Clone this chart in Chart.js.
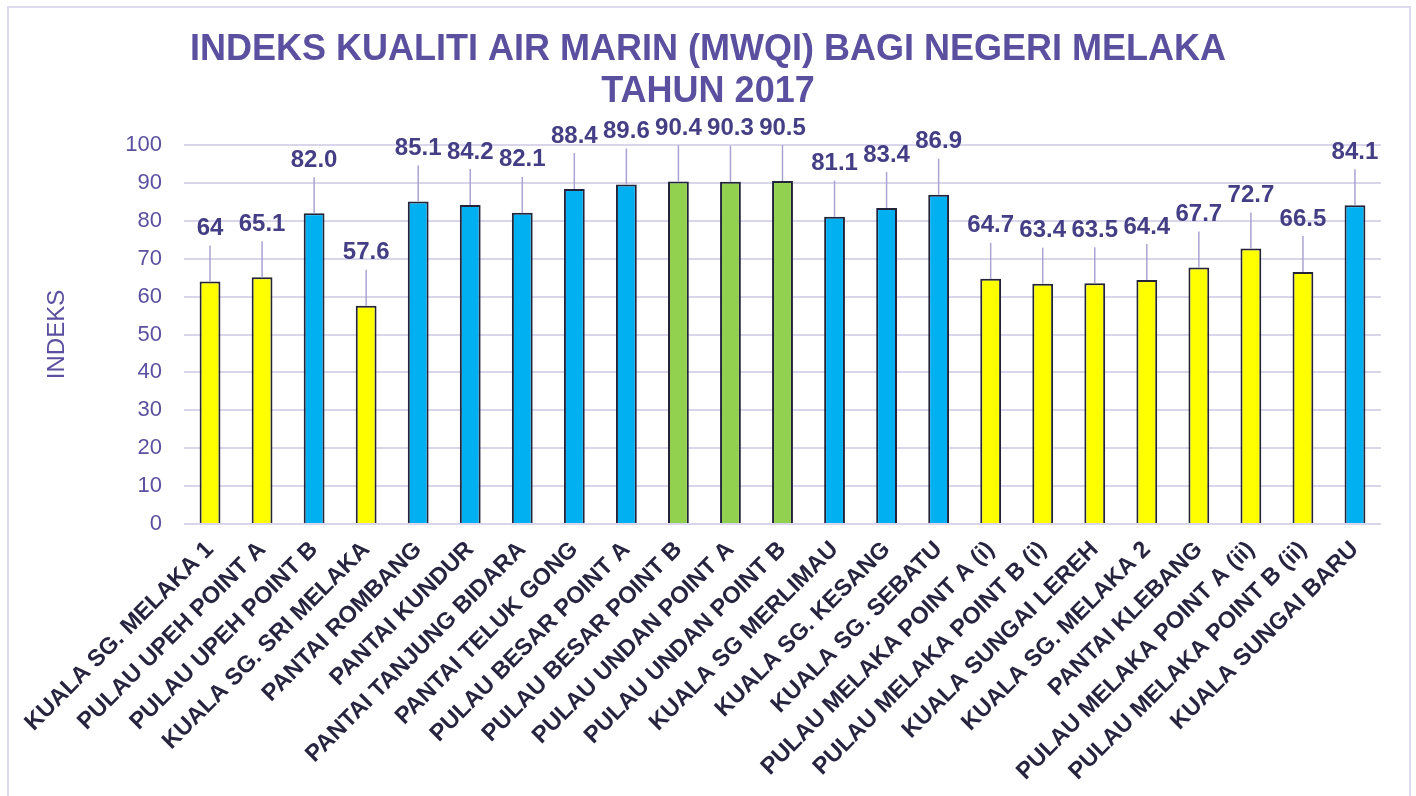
<!DOCTYPE html>
<html><head><meta charset="utf-8">
<script src="https://cdn.jsdelivr.net/npm/chart.js@4/dist/chart.umd.min.js"></script>
<style>
html,body{margin:0;padding:0;background:#fff;overflow:hidden;}
#frame{position:absolute;left:7px;top:6px;width:1400px;height:820px;border:2px solid #DCDAEE;}
#wrap{position:absolute;left:0;top:0;width:1416px;height:796px;}
</style></head><body>
<div id="frame"></div>
<div id="wrap"><canvas id="c" width="1416" height="796"></canvas></div>
<script>
const categories = [
  'KUALA SG. MELAKA 1','PULAU UPEH POINT A','PULAU UPEH POINT B','KUALA SG. SRI MELAKA',
  'PANTAI ROMBANG','PANTAI KUNDUR','PANTAI TANJUNG BIDARA','PANTAI TELUK GONG',
  'PULAU BESAR POINT A','PULAU BESAR POINT B','PULAU UNDAN POINT A','PULAU UNDAN POINT B',
  'KUALA SG MERLIMAU','KUALA SG. KESANG','KUALA SG. SEBATU','PULAU MELAKA POINT A (i)',
  'PULAU MELAKA POINT B (i)','KUALA SUNGAI LEREH','KUALA SG. MELAKA 2','PANTAI KLEBANG',
  'PULAU MELAKA POINT A (ii)','PULAU MELAKA POINT B (ii)','KUALA SUNGAI BARU'
];
const indexValues = [64, 65.1, 82.0, 57.6, 85.1, 84.2, 82.1, 88.4, 89.6, 90.4, 90.3, 90.5,
  81.1, 83.4, 86.9, 64.7, 63.4, 63.5, 64.4, 67.7, 72.7, 66.5, 84.1];
const valueLabels = ['64','65.1','82.0','57.6','85.1','84.2','82.1','88.4','89.6','90.4','90.3','90.5',
  '81.1','83.4','86.9','64.7','63.4','63.5','64.4','67.7','72.7','66.5','84.1'];
const yTicks = [0, 10, 20, 30, 40, 50, 60, 70, 80, 90, 100];
const titleLines = ['INDEKS KUALITI AIR MARIN (MWQI) BAGI NEGERI MELAKA', 'TAHUN 2017'];
const yAxisTitle = 'INDEKS';

const PURPLE = '#5B50A0';
const FONT = '"Liberation Sans", Arial, sans-serif';
function classColor(v) {
  if (v >= 90) return '#92D050';
  if (v >= 80) return '#00B0F0';
  return '#FFFF00';
}

const calloutPlugin = {
  id: 'callouts',
  afterDatasetsDraw(chart) {
    const ctx = chart.ctx;
    const meta = chart.getDatasetMeta(0);
    ctx.save();
    meta.data.forEach((bar, i) => {
      const x = bar.x, top = bar.y;
      const ly = top - 53;
      ctx.strokeStyle = '#A9A4D2';
      ctx.lineWidth = 1.5;
      ctx.beginPath();
      ctx.moveTo(x, ly + 17);
      ctx.lineTo(x, top);
      ctx.stroke();
      ctx.fillStyle = '#443E85';
      ctx.font = 'bold 24px ' + FONT;
      ctx.textAlign = 'center';
      ctx.textBaseline = 'middle';
      ctx.fillText(valueLabels[i], x, ly);
    });
    ctx.restore();
  }
};

new Chart(document.getElementById('c'), {
  type: 'bar',
  data: {
    labels: categories,
    datasets: [{
      data: indexValues,
      backgroundColor: indexValues.map(classColor),
      borderColor: '#23233A',
      borderWidth: 2,
      barPercentage: 0.4,
      categoryPercentage: 1.0
    }]
  },
  options: {
    responsive: false,
    animation: false,
    devicePixelRatio: 1,
    layout: { padding: { left: 35, right: 35, top: 0, bottom: 0 } },
    plugins: {
      legend: { display: false },
      tooltip: { enabled: false },
      title: {
        display: true,
        text: titleLines,
        color: PURPLE,
        font: { family: FONT, size: 36, weight: 'bold', lineHeight: 1.167 },
        padding: { top: 29, bottom: 32 }
      }
    },
    scales: {
      x: {
        grid: { display: false },
        border: { display: false },
        ticks: {
          autoSkip: false,
          maxRotation: 45,
          minRotation: 45,
          padding: 4,
          color: '#26243F',
          font: { family: FONT, size: 23.5, weight: 'bold' }
        },
        afterFit(scale) { scale.height = 272; }
      },
      y: {
        min: 0,
        max: 100,
        afterBuildTicks(scale) { scale.ticks = yTicks.map(v => ({ value: v })); },
        grid: { color: '#D9D6EC', lineWidth: 2, drawTicks: false },
        border: { display: false },
        ticks: {
          padding: 22,
          color: PURPLE,
          font: { family: FONT, size: 22 }
        },
        title: {
          display: true,
          text: yAxisTitle,
          color: PURPLE,
          font: { family: FONT, size: 24, weight: 'normal' },
          padding: { top: 8, bottom: 0 }
        },
        afterFit(scale) { scale.width = 149; }
      }
    }
  },
  plugins: [calloutPlugin]
});
</script>
</body></html>
